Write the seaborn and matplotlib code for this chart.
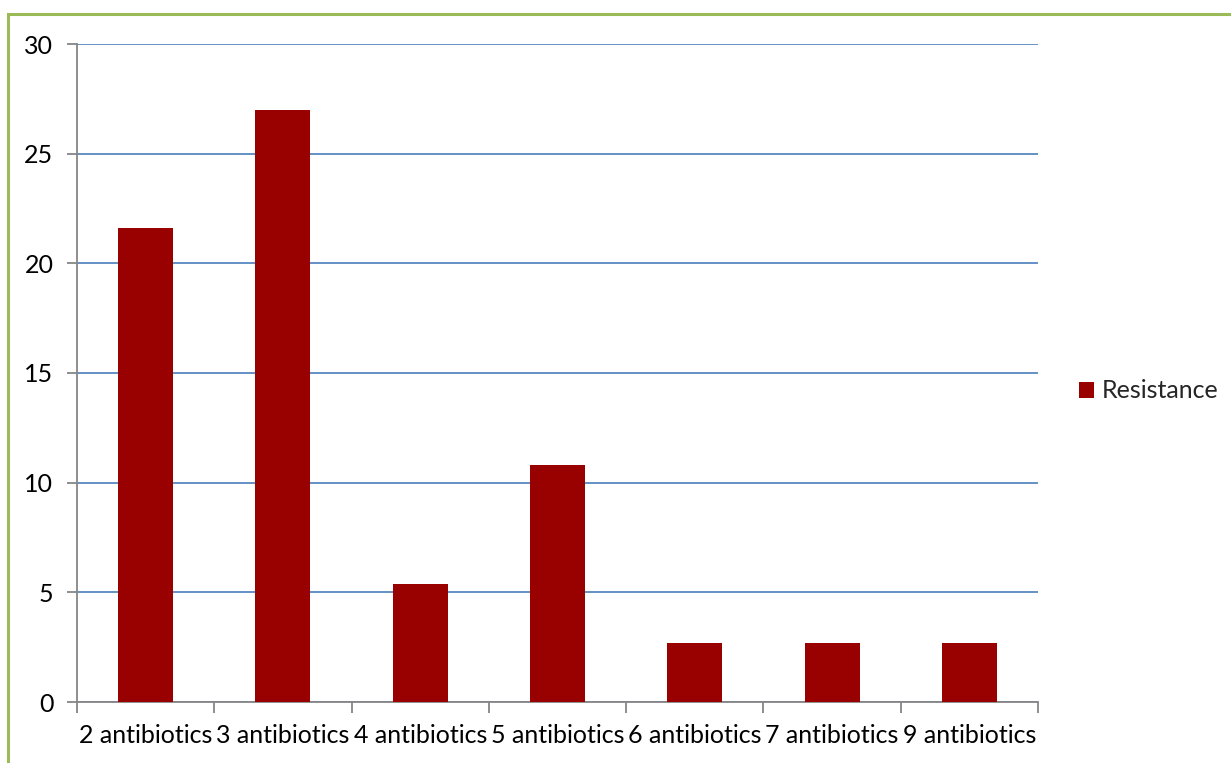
import matplotlib
matplotlib.use("Agg")
import matplotlib.pyplot as plt
from matplotlib.patches import Rectangle
import seaborn as sns
import pandas as pd

categories = ["2 antibiotics", "3 antibiotics", "4 antibiotics", "5 antibiotics",
              "6 antibiotics", "7 antibiotics", "9 antibiotics"]
resistance = [21.6, 27.0, 5.4, 10.8, 2.7, 2.7, 2.7]
y_ticks = [0, 5, 10, 15, 20, 25, 30]

df = pd.DataFrame({"category": categories, "Resistance": resistance})

sns.set_theme(style="white")
plt.rcParams["font.family"] = ["Lato", "DejaVu Sans"]

FS = 18
W, H = 1231, 763
fig = plt.figure(figsize=(W / 100, H / 100), dpi=100)
ax = fig.add_axes([77 / W, 1 - 702 / H, (1038 - 77) / W, (702 - 44) / H])

bar_color = "#990000"
sns.barplot(data=df, x="category", y="Resistance", color=bar_color,
            width=0.4, saturation=1, ax=ax, zorder=3, label="Resistance",
            linewidth=0)

ax.set_xlim(-0.5, len(categories) - 0.5)
ax.set_ylim(0, 30)
ax.set_yticks(y_ticks)
ax.set_yticklabels([str(t) for t in y_ticks], fontsize=FS)
ax.set_xticks(range(len(categories)))
ax.set_xticklabels(categories, fontsize=FS)
ax.set_xlabel("")
ax.set_ylabel("")

# horizontal gridlines
ax.yaxis.grid(True, color="#4A7EBB", linewidth=1.2, zorder=0)
ax.xaxis.grid(False)
ax.set_axisbelow(True)

for side in ["top", "right"]:
    ax.spines[side].set_visible(False)
for side in ["left", "bottom"]:
    ax.spines[side].set_color("#868686")
    ax.spines[side].set_linewidth(1.3)

# category boundary ticks on the x axis
ax.set_xticks([i - 0.5 for i in range(len(categories) + 1)], minor=True)
ax.tick_params(axis="x", which="minor", length=8, width=1.3, color="#868686",
               direction="out", bottom=True)
ax.tick_params(axis="x", which="major", length=0, pad=16, labelcolor="black")
ax.tick_params(axis="y", which="major", length=7, width=1.3, color="#868686",
               direction="out", left=True, pad=10, labelcolor="black")

leg = ax.legend(loc="center left", bbox_to_anchor=(1066 / W, 1 - 391 / H),
                bbox_transform=fig.transFigure, frameon=False,
                fontsize=FS, handlelength=0.6, handleheight=0.6,
                handletextpad=0.35, borderpad=0)

# outer chart frame
fig.patches.append(Rectangle((8 / W, -0.1), 1.2, 1 - 14 / H + 0.1,
                             transform=fig.transFigure, fill=False,
                             edgecolor="#9BBB59", linewidth=2.2))

fig.savefig("out.png", dpi=100, facecolor="white")
